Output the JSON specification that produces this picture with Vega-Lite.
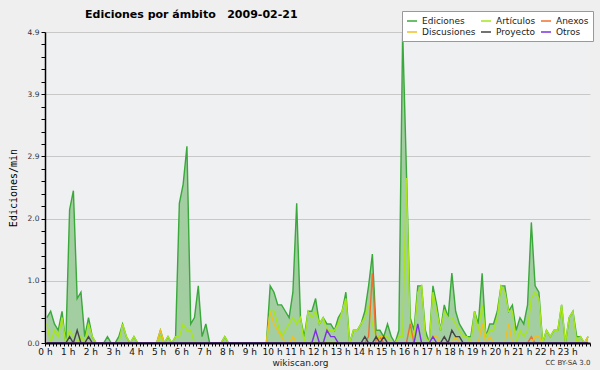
{
  "$schema": "https://vega.github.io/schema/vega-lite/v6.json",
  "width": 545,
  "height": 311,
  "autosize": {"type": "none"},
  "padding": {"left": 45, "top": 32, "right": 10, "bottom": 27},
  "background": "#efefef",
  "config": {"view": {"fill": "#eef0f2", "stroke": null}, "font": "DejaVu Sans"},
  "title": {"text": "Ediciones por ámbito \u00a0 2009-02-21", "anchor": "start", "frame": "group", "dx": 40, "dy": 21, "offset": 12, "fontSize": 11, "fontWeight": "bold", "font": "DejaVu Sans", "color": "#000000"},
  "data": {"values": [
    {"min": 5, "Ediciones": 0.4, "Artículos": 0.3, "Anexos": 0, "Discusiones": 0, "Proyecto": 0, "Otros": 0},
    {"min": 15, "Ediciones": 0.5, "Artículos": 0, "Anexos": 0, "Discusiones": 0, "Proyecto": 0, "Otros": 0},
    {"min": 25, "Ediciones": 0.3, "Artículos": 0.2, "Anexos": 0, "Discusiones": 0, "Proyecto": 0, "Otros": 0},
    {"min": 35, "Ediciones": 0.2, "Artículos": 0.1, "Anexos": 0, "Discusiones": 0, "Proyecto": 0, "Otros": 0},
    {"min": 45, "Ediciones": 0.5, "Artículos": 0.4, "Anexos": 0, "Discusiones": 0, "Proyecto": 0, "Otros": 0},
    {"min": 55, "Ediciones": 0, "Artículos": 0, "Anexos": 0, "Discusiones": 0, "Proyecto": 0, "Otros": 0},
    {"min": 65, "Ediciones": 2.1, "Artículos": 0.2, "Anexos": 0, "Discusiones": 0, "Proyecto": 0.1, "Otros": 0},
    {"min": 75, "Ediciones": 2.4, "Artículos": 0.1, "Anexos": 0, "Discusiones": 0, "Proyecto": 0, "Otros": 0},
    {"min": 85, "Ediciones": 0.7, "Artículos": 0, "Anexos": 0, "Discusiones": 0, "Proyecto": 0.2, "Otros": 0},
    {"min": 95, "Ediciones": 0.8, "Artículos": 0.1, "Anexos": 0, "Discusiones": 0, "Proyecto": 0, "Otros": 0},
    {"min": 105, "Ediciones": 0.1, "Artículos": 0, "Anexos": 0, "Discusiones": 0, "Proyecto": 0, "Otros": 0},
    {"min": 115, "Ediciones": 0.4, "Artículos": 0.3, "Anexos": 0, "Discusiones": 0, "Proyecto": 0.1, "Otros": 0},
    {"min": 125, "Ediciones": 0.1, "Artículos": 0.1, "Anexos": 0, "Discusiones": 0, "Proyecto": 0, "Otros": 0},
    {"min": 135, "Ediciones": 0, "Artículos": 0, "Anexos": 0, "Discusiones": 0, "Proyecto": 0, "Otros": 0},
    {"min": 145, "Ediciones": 0, "Artículos": 0, "Anexos": 0, "Discusiones": 0, "Proyecto": 0, "Otros": 0},
    {"min": 155, "Ediciones": 0, "Artículos": 0, "Anexos": 0, "Discusiones": 0, "Proyecto": 0, "Otros": 0},
    {"min": 165, "Ediciones": 0.1, "Artículos": 0, "Anexos": 0, "Discusiones": 0, "Proyecto": 0, "Otros": 0},
    {"min": 175, "Ediciones": 0, "Artículos": 0, "Anexos": 0, "Discusiones": 0, "Proyecto": 0, "Otros": 0},
    {"min": 185, "Ediciones": 0, "Artículos": 0, "Anexos": 0, "Discusiones": 0, "Proyecto": 0, "Otros": 0},
    {"min": 195, "Ediciones": 0.1, "Artículos": 0, "Anexos": 0, "Discusiones": 0, "Proyecto": 0, "Otros": 0},
    {"min": 205, "Ediciones": 0.3, "Artículos": 0.3, "Anexos": 0, "Discusiones": 0, "Proyecto": 0, "Otros": 0},
    {"min": 215, "Ediciones": 0.1, "Artículos": 0.1, "Anexos": 0, "Discusiones": 0, "Proyecto": 0, "Otros": 0},
    {"min": 225, "Ediciones": 0, "Artículos": 0, "Anexos": 0, "Discusiones": 0, "Proyecto": 0, "Otros": 0},
    {"min": 235, "Ediciones": 0.1, "Artículos": 0.1, "Anexos": 0, "Discusiones": 0, "Proyecto": 0, "Otros": 0},
    {"min": 245, "Ediciones": 0, "Artículos": 0, "Anexos": 0, "Discusiones": 0, "Proyecto": 0, "Otros": 0},
    {"min": 255, "Ediciones": 0, "Artículos": 0, "Anexos": 0, "Discusiones": 0, "Proyecto": 0, "Otros": 0},
    {"min": 265, "Ediciones": 0, "Artículos": 0, "Anexos": 0, "Discusiones": 0, "Proyecto": 0, "Otros": 0},
    {"min": 275, "Ediciones": 0, "Artículos": 0, "Anexos": 0, "Discusiones": 0, "Proyecto": 0, "Otros": 0},
    {"min": 285, "Ediciones": 0, "Artículos": 0, "Anexos": 0, "Discusiones": 0, "Proyecto": 0, "Otros": 0},
    {"min": 295, "Ediciones": 0, "Artículos": 0, "Anexos": 0, "Discusiones": 0, "Proyecto": 0, "Otros": 0},
    {"min": 305, "Ediciones": 0.2, "Artículos": 0.1, "Anexos": 0, "Discusiones": 0.2, "Proyecto": 0, "Otros": 0},
    {"min": 315, "Ediciones": 0, "Artículos": 0, "Anexos": 0, "Discusiones": 0, "Proyecto": 0, "Otros": 0},
    {"min": 325, "Ediciones": 0.1, "Artículos": 0.1, "Anexos": 0, "Discusiones": 0, "Proyecto": 0, "Otros": 0},
    {"min": 335, "Ediciones": 0, "Artículos": 0, "Anexos": 0, "Discusiones": 0, "Proyecto": 0, "Otros": 0},
    {"min": 345, "Ediciones": 0.1, "Artículos": 0.1, "Anexos": 0, "Discusiones": 0, "Proyecto": 0, "Otros": 0},
    {"min": 355, "Ediciones": 2.2, "Artículos": 0.1, "Anexos": 0, "Discusiones": 0, "Proyecto": 0, "Otros": 0},
    {"min": 365, "Ediciones": 2.5, "Artículos": 0.3, "Anexos": 0, "Discusiones": 0, "Proyecto": 0, "Otros": 0},
    {"min": 375, "Ediciones": 3.1, "Artículos": 0.2, "Anexos": 0, "Discusiones": 0, "Proyecto": 0, "Otros": 0},
    {"min": 385, "Ediciones": 0.3, "Artículos": 0.2, "Anexos": 0, "Discusiones": 0, "Proyecto": 0, "Otros": 0},
    {"min": 395, "Ediciones": 0.4, "Artículos": 0, "Anexos": 0, "Discusiones": 0, "Proyecto": 0, "Otros": 0},
    {"min": 405, "Ediciones": 0.9, "Artículos": 0, "Anexos": 0, "Discusiones": 0, "Proyecto": 0, "Otros": 0},
    {"min": 415, "Ediciones": 0.1, "Artículos": 0, "Anexos": 0, "Discusiones": 0, "Proyecto": 0, "Otros": 0},
    {"min": 425, "Ediciones": 0.3, "Artículos": 0, "Anexos": 0, "Discusiones": 0, "Proyecto": 0, "Otros": 0},
    {"min": 435, "Ediciones": 0, "Artículos": 0, "Anexos": 0, "Discusiones": 0, "Proyecto": 0, "Otros": 0},
    {"min": 445, "Ediciones": 0, "Artículos": 0, "Anexos": 0, "Discusiones": 0, "Proyecto": 0, "Otros": 0},
    {"min": 455, "Ediciones": 0, "Artículos": 0, "Anexos": 0, "Discusiones": 0, "Proyecto": 0, "Otros": 0},
    {"min": 465, "Ediciones": 0, "Artículos": 0, "Anexos": 0, "Discusiones": 0, "Proyecto": 0, "Otros": 0},
    {"min": 475, "Ediciones": 0.1, "Artículos": 0.1, "Anexos": 0, "Discusiones": 0, "Proyecto": 0, "Otros": 0},
    {"min": 485, "Ediciones": 0, "Artículos": 0, "Anexos": 0, "Discusiones": 0, "Proyecto": 0, "Otros": 0},
    {"min": 495, "Ediciones": 0, "Artículos": 0, "Anexos": 0, "Discusiones": 0, "Proyecto": 0, "Otros": 0},
    {"min": 505, "Ediciones": 0, "Artículos": 0, "Anexos": 0, "Discusiones": 0, "Proyecto": 0, "Otros": 0},
    {"min": 515, "Ediciones": 0, "Artículos": 0, "Anexos": 0, "Discusiones": 0, "Proyecto": 0, "Otros": 0},
    {"min": 525, "Ediciones": 0, "Artículos": 0, "Anexos": 0, "Discusiones": 0, "Proyecto": 0, "Otros": 0},
    {"min": 535, "Ediciones": 0, "Artículos": 0, "Anexos": 0, "Discusiones": 0, "Proyecto": 0, "Otros": 0},
    {"min": 545, "Ediciones": 0, "Artículos": 0, "Anexos": 0, "Discusiones": 0, "Proyecto": 0, "Otros": 0},
    {"min": 555, "Ediciones": 0, "Artículos": 0, "Anexos": 0, "Discusiones": 0, "Proyecto": 0, "Otros": 0},
    {"min": 565, "Ediciones": 0, "Artículos": 0, "Anexos": 0, "Discusiones": 0, "Proyecto": 0, "Otros": 0},
    {"min": 575, "Ediciones": 0, "Artículos": 0, "Anexos": 0, "Discusiones": 0, "Proyecto": 0, "Otros": 0},
    {"min": 585, "Ediciones": 0, "Artículos": 0, "Anexos": 0, "Discusiones": 0, "Proyecto": 0, "Otros": 0},
    {"min": 595, "Ediciones": 0.9, "Artículos": 0.5, "Anexos": 0, "Discusiones": 0.5, "Proyecto": 0, "Otros": 0},
    {"min": 605, "Ediciones": 0.8, "Artículos": 0.5, "Anexos": 0, "Discusiones": 0.3, "Proyecto": 0, "Otros": 0},
    {"min": 615, "Ediciones": 0.6, "Artículos": 0.3, "Anexos": 0, "Discusiones": 0.2, "Proyecto": 0, "Otros": 0},
    {"min": 625, "Ediciones": 0.6, "Artículos": 0.1, "Anexos": 0, "Discusiones": 0.1, "Proyecto": 0, "Otros": 0},
    {"min": 635, "Ediciones": 0.5, "Artículos": 0.2, "Anexos": 0, "Discusiones": 0, "Proyecto": 0, "Otros": 0},
    {"min": 645, "Ediciones": 0.4, "Artículos": 0.3, "Anexos": 0, "Discusiones": 0, "Proyecto": 0, "Otros": 0},
    {"min": 655, "Ediciones": 0.8, "Artículos": 0.4, "Anexos": 0, "Discusiones": 0.1, "Proyecto": 0, "Otros": 0},
    {"min": 665, "Ediciones": 2.2, "Artículos": 0.3, "Anexos": 0, "Discusiones": 0, "Proyecto": 0, "Otros": 0},
    {"min": 675, "Ediciones": 0.4, "Artículos": 0.4, "Anexos": 0, "Discusiones": 0, "Proyecto": 0, "Otros": 0},
    {"min": 685, "Ediciones": 0.1, "Artículos": 0, "Anexos": 0, "Discusiones": 0, "Proyecto": 0, "Otros": 0},
    {"min": 695, "Ediciones": 0.5, "Artículos": 0.5, "Anexos": 0, "Discusiones": 0, "Proyecto": 0, "Otros": 0},
    {"min": 705, "Ediciones": 0.5, "Artículos": 0.4, "Anexos": 0, "Discusiones": 0, "Proyecto": 0, "Otros": 0},
    {"min": 715, "Ediciones": 0.7, "Artículos": 0.5, "Anexos": 0, "Discusiones": 0, "Proyecto": 0, "Otros": 0.2},
    {"min": 725, "Ediciones": 0.3, "Artículos": 0.3, "Anexos": 0, "Discusiones": 0, "Proyecto": 0, "Otros": 0},
    {"min": 735, "Ediciones": 0.4, "Artículos": 0.4, "Anexos": 0, "Discusiones": 0, "Proyecto": 0, "Otros": 0},
    {"min": 745, "Ediciones": 0.3, "Artículos": 0.2, "Anexos": 0, "Discusiones": 0, "Proyecto": 0, "Otros": 0.2},
    {"min": 755, "Ediciones": 0.3, "Artículos": 0.2, "Anexos": 0, "Discusiones": 0, "Proyecto": 0, "Otros": 0.1},
    {"min": 765, "Ediciones": 0.2, "Artículos": 0.2, "Anexos": 0, "Discusiones": 0, "Proyecto": 0, "Otros": 0.1},
    {"min": 775, "Ediciones": 0.4, "Artículos": 0.3, "Anexos": 0, "Discusiones": 0, "Proyecto": 0, "Otros": 0},
    {"min": 785, "Ediciones": 0.5, "Artículos": 0.5, "Anexos": 0, "Discusiones": 0, "Proyecto": 0, "Otros": 0},
    {"min": 795, "Ediciones": 0.8, "Artículos": 0.7, "Anexos": 0, "Discusiones": 0, "Proyecto": 0, "Otros": 0},
    {"min": 805, "Ediciones": 0, "Artículos": 0, "Anexos": 0, "Discusiones": 0, "Proyecto": 0, "Otros": 0},
    {"min": 815, "Ediciones": 0.2, "Artículos": 0.2, "Anexos": 0, "Discusiones": 0, "Proyecto": 0, "Otros": 0},
    {"min": 825, "Ediciones": 0.2, "Artículos": 0.2, "Anexos": 0, "Discusiones": 0, "Proyecto": 0, "Otros": 0},
    {"min": 835, "Ediciones": 0.3, "Artículos": 0.3, "Anexos": 0, "Discusiones": 0, "Proyecto": 0, "Otros": 0},
    {"min": 845, "Ediciones": 0.5, "Artículos": 0.4, "Anexos": 0, "Discusiones": 0, "Proyecto": 0.1, "Otros": 0},
    {"min": 855, "Ediciones": 0.9, "Artículos": 0.6, "Anexos": 0.1, "Discusiones": 0, "Proyecto": 0, "Otros": 0},
    {"min": 865, "Ediciones": 1.4, "Artículos": 0.3, "Anexos": 1.1, "Discusiones": 0, "Proyecto": 0, "Otros": 0},
    {"min": 875, "Ediciones": 0.2, "Artículos": 0.1, "Anexos": 0, "Discusiones": 0, "Proyecto": 0.1, "Otros": 0},
    {"min": 885, "Ediciones": 0.2, "Artículos": 0.1, "Anexos": 0.1, "Discusiones": 0.1, "Proyecto": 0, "Otros": 0},
    {"min": 895, "Ediciones": 0.1, "Artículos": 0.1, "Anexos": 0, "Discusiones": 0.1, "Proyecto": 0.1, "Otros": 0},
    {"min": 905, "Ediciones": 0.3, "Artículos": 0.1, "Anexos": 0, "Discusiones": 0, "Proyecto": 0, "Otros": 0},
    {"min": 915, "Ediciones": 0.1, "Artículos": 0, "Anexos": 0, "Discusiones": 0, "Proyecto": 0, "Otros": 0},
    {"min": 925, "Ediciones": 0, "Artículos": 0, "Anexos": 0, "Discusiones": 0, "Proyecto": 0, "Otros": 0},
    {"min": 935, "Ediciones": 0.2, "Artículos": 0.1, "Anexos": 0, "Discusiones": 0, "Proyecto": 0, "Otros": 0},
    {"min": 945, "Ediciones": 4.9, "Artículos": 0.1, "Anexos": 0, "Discusiones": 0, "Proyecto": 0, "Otros": 0},
    {"min": 955, "Ediciones": 2.7, "Artículos": 2.6, "Anexos": 0, "Discusiones": 0, "Proyecto": 0, "Otros": 0},
    {"min": 965, "Ediciones": 0.4, "Artículos": 0.1, "Anexos": 0.3, "Discusiones": 0, "Proyecto": 0, "Otros": 0},
    {"min": 975, "Ediciones": 0.2, "Artículos": 0.1, "Anexos": 0, "Discusiones": 0, "Proyecto": 0, "Otros": 0},
    {"min": 985, "Ediciones": 0.9, "Artículos": 0.8, "Anexos": 0, "Discusiones": 0, "Proyecto": 0, "Otros": 0.3},
    {"min": 995, "Ediciones": 0.9, "Artículos": 0.9, "Anexos": 0, "Discusiones": 0, "Proyecto": 0, "Otros": 0},
    {"min": 1005, "Ediciones": 0.2, "Artículos": 0.1, "Anexos": 0, "Discusiones": 0, "Proyecto": 0, "Otros": 0},
    {"min": 1015, "Ediciones": 0, "Artículos": 0, "Anexos": 0, "Discusiones": 0, "Proyecto": 0, "Otros": 0},
    {"min": 1025, "Ediciones": 0.9, "Artículos": 0.8, "Anexos": 0, "Discusiones": 0.1, "Proyecto": 0, "Otros": 0.1},
    {"min": 1035, "Ediciones": 0.6, "Artículos": 0.5, "Anexos": 0, "Discusiones": 0.1, "Proyecto": 0, "Otros": 0},
    {"min": 1045, "Ediciones": 0.2, "Artículos": 0.2, "Anexos": 0, "Discusiones": 0, "Proyecto": 0, "Otros": 0},
    {"min": 1055, "Ediciones": 0.6, "Artículos": 0.5, "Anexos": 0, "Discusiones": 0, "Proyecto": 0.1, "Otros": 0},
    {"min": 1065, "Ediciones": 0.4, "Artículos": 0.4, "Anexos": 0, "Discusiones": 0, "Proyecto": 0, "Otros": 0},
    {"min": 1075, "Ediciones": 1.1, "Artículos": 0.4, "Anexos": 0, "Discusiones": 0, "Proyecto": 0.2, "Otros": 0},
    {"min": 1085, "Ediciones": 0.5, "Artículos": 0.3, "Anexos": 0, "Discusiones": 0.1, "Proyecto": 0.1, "Otros": 0},
    {"min": 1095, "Ediciones": 0.3, "Artículos": 0.2, "Anexos": 0, "Discusiones": 0, "Proyecto": 0.1, "Otros": 0},
    {"min": 1105, "Ediciones": 0.2, "Artículos": 0.1, "Anexos": 0, "Discusiones": 0, "Proyecto": 0, "Otros": 0},
    {"min": 1115, "Ediciones": 0.1, "Artículos": 0.1, "Anexos": 0, "Discusiones": 0, "Proyecto": 0, "Otros": 0},
    {"min": 1125, "Ediciones": 0.1, "Artículos": 0, "Anexos": 0, "Discusiones": 0, "Proyecto": 0, "Otros": 0},
    {"min": 1135, "Ediciones": 0.5, "Artículos": 0.5, "Anexos": 0, "Discusiones": 0, "Proyecto": 0, "Otros": 0},
    {"min": 1145, "Ediciones": 0.3, "Artículos": 0.2, "Anexos": 0, "Discusiones": 0, "Proyecto": 0, "Otros": 0},
    {"min": 1155, "Ediciones": 1.1, "Artículos": 0.6, "Anexos": 0, "Discusiones": 0.3, "Proyecto": 0, "Otros": 0},
    {"min": 1165, "Ediciones": 0.1, "Artículos": 0.1, "Anexos": 0, "Discusiones": 0, "Proyecto": 0, "Otros": 0},
    {"min": 1175, "Ediciones": 0.3, "Artículos": 0.2, "Anexos": 0, "Discusiones": 0.1, "Proyecto": 0, "Otros": 0},
    {"min": 1185, "Ediciones": 0.3, "Artículos": 0.2, "Anexos": 0, "Discusiones": 0, "Proyecto": 0, "Otros": 0},
    {"min": 1195, "Ediciones": 0.5, "Artículos": 0.4, "Anexos": 0, "Discusiones": 0, "Proyecto": 0, "Otros": 0},
    {"min": 1205, "Ediciones": 0.9, "Artículos": 0.9, "Anexos": 0, "Discusiones": 0, "Proyecto": 0, "Otros": 0},
    {"min": 1215, "Ediciones": 0.9, "Artículos": 0.8, "Anexos": 0, "Discusiones": 0, "Proyecto": 0, "Otros": 0},
    {"min": 1225, "Ediciones": 0.5, "Artículos": 0.5, "Anexos": 0, "Discusiones": 0.3, "Proyecto": 0, "Otros": 0},
    {"min": 1235, "Ediciones": 0.6, "Artículos": 0.5, "Anexos": 0, "Discusiones": 0, "Proyecto": 0, "Otros": 0},
    {"min": 1245, "Ediciones": 0.2, "Artículos": 0, "Anexos": 0, "Discusiones": 0, "Proyecto": 0, "Otros": 0},
    {"min": 1255, "Ediciones": 0.4, "Artículos": 0.2, "Anexos": 0, "Discusiones": 0, "Proyecto": 0, "Otros": 0},
    {"min": 1265, "Ediciones": 0.3, "Artículos": 0.1, "Anexos": 0, "Discusiones": 0, "Proyecto": 0, "Otros": 0},
    {"min": 1275, "Ediciones": 0.6, "Artículos": 0.2, "Anexos": 0, "Discusiones": 0, "Proyecto": 0, "Otros": 0},
    {"min": 1285, "Ediciones": 1.9, "Artículos": 0.7, "Anexos": 0.1, "Discusiones": 0, "Proyecto": 0, "Otros": 0},
    {"min": 1295, "Ediciones": 0.9, "Artículos": 0.8, "Anexos": 0, "Discusiones": 0.1, "Proyecto": 0, "Otros": 0},
    {"min": 1305, "Ediciones": 0.8, "Artículos": 0.7, "Anexos": 0, "Discusiones": 0.1, "Proyecto": 0, "Otros": 0},
    {"min": 1315, "Ediciones": 0, "Artículos": 0, "Anexos": 0, "Discusiones": 0, "Proyecto": 0, "Otros": 0},
    {"min": 1325, "Ediciones": 0.2, "Artículos": 0.2, "Anexos": 0, "Discusiones": 0, "Proyecto": 0, "Otros": 0},
    {"min": 1335, "Ediciones": 0.1, "Artículos": 0.1, "Anexos": 0, "Discusiones": 0, "Proyecto": 0, "Otros": 0},
    {"min": 1345, "Ediciones": 0.2, "Artículos": 0.2, "Anexos": 0, "Discusiones": 0, "Proyecto": 0, "Otros": 0},
    {"min": 1355, "Ediciones": 0.2, "Artículos": 0.2, "Anexos": 0, "Discusiones": 0, "Proyecto": 0, "Otros": 0},
    {"min": 1365, "Ediciones": 0.6, "Artículos": 0.6, "Anexos": 0, "Discusiones": 0, "Proyecto": 0, "Otros": 0},
    {"min": 1375, "Ediciones": 0, "Artículos": 0, "Anexos": 0, "Discusiones": 0, "Proyecto": 0, "Otros": 0},
    {"min": 1385, "Ediciones": 0.4, "Artículos": 0.4, "Anexos": 0, "Discusiones": 0, "Proyecto": 0, "Otros": 0},
    {"min": 1395, "Ediciones": 0.5, "Artículos": 0.5, "Anexos": 0, "Discusiones": 0, "Proyecto": 0, "Otros": 0},
    {"min": 1405, "Ediciones": 0.1, "Artículos": 0, "Anexos": 0, "Discusiones": 0, "Proyecto": 0, "Otros": 0},
    {"min": 1415, "Ediciones": 0.1, "Artículos": 0.1, "Anexos": 0, "Discusiones": 0, "Proyecto": 0, "Otros": 0},
    {"min": 1425, "Ediciones": 0, "Artículos": 0, "Anexos": 0, "Discusiones": 0, "Proyecto": 0, "Otros": 0},
    {"min": 1435, "Ediciones": 0.1, "Artículos": 0.1, "Anexos": 0, "Discusiones": 0.1, "Proyecto": 0, "Otros": 0}
  ]},
  "layer": [
    {
      "mark": {"type": "area", "color": "#a2cea2", "opacity": 1},
      "encoding": {
        "x": {"field": "min", "type": "quantitative", "scale": {"domain": [0, 1440], "nice": false},
          "axis": {"title": "wikiscan.org", "titleFontSize": 9, "titleFontWeight": "normal", "titleColor": "#222222", "titlePadding": 2, "titleX": 255, "zindex": 1,
            "tickCount": 144, "labelExpr": "datum.value % 60 == 0 && datum.value < 1440 ? (datum.value / 60) + ' h' : ''",
            "labelFontSize": 9, "labelColor": "#111111", "labelPadding": 1, "labelOverlap": false, "labelFlush": false,
            "tickSize": 3, "tickColor": "#000000", "tickWidth": 1, "domainColor": "#000000", "domainWidth": 2, "grid": false}},
        "y": {"field": "Ediciones", "type": "quantitative", "scale": {"domain": [0, 4.9], "nice": false},
          "axis": {"title": "Ediciones/min", "titleFont": "DejaVu Sans Mono", "titleFontSize": 10, "titleFontWeight": "normal", "titleColor": "#000000", "titlePadding": 9,
            "tickCount": 40,
            "values": [0, 0.196, 0.392, 0.588, 0.784, 0.98, 1.176, 1.372, 1.568, 1.764, 1.96, 2.156, 2.352, 2.548, 2.744, 2.94, 3.136, 3.332, 3.528, 3.724, 3.92, 4.116, 4.312, 4.508, 4.704, 4.9],
            "labelExpr": "indexof([0, 0.98, 1.96, 2.94, 3.92, 4.9], datum.value) >= 0 ? format(datum.value, '.1f') : ''",
            "labelFontSize": 7.5, "labelColor": "#333333", "labelPadding": 2, "labelOverlap": false,
            "grid": true, "gridColor": "#c8c8c8",
            "gridOpacity": {"condition": {"test": "indexof([0.98, 1.96, 2.94, 3.92, 4.9], datum.value) >= 0", "value": 1}, "value": 0},
            "tickSize": 4, "tickColor": "#000000", "domainColor": "#000000", "domainWidth": 1.5}}
      }
    },
    {
      "transform": [{"fold": ["Ediciones", "Artículos", "Anexos", "Discusiones", "Proyecto", "Otros"], "as": ["serie", "valor"]}],
      "mark": {"type": "line", "strokeWidth": 1.4},
      "encoding": {
        "x": {"field": "min", "type": "quantitative",
          "axis": {"orient": "bottom", "title": "CC BY-SA 3.0", "titleAnchor": "end", "titleFontSize": 7, "titleFontWeight": "normal", "titleColor": "#333333", "titlePadding": 15, "labels": false, "ticks": false, "domain": false, "grid": false}},
        "y": {"field": "valor", "type": "quantitative"},
        "color": {"field": "serie", "type": "nominal",
          "scale": {"domain": ["Ediciones", "Artículos", "Anexos", "Discusiones", "Proyecto", "Otros"], "range": ["#3aa83a", "#a6e61a", "#f07030", "#f0c020", "#444444", "#8030e0"]},
          "legend": {"title": null, "orient": "none", "legendX": 357, "legendY": -21, "columns": 3, "direction": "horizontal",
            "symbolType": "stroke", "symbolSize": 100, "symbolStrokeWidth": 1.5, "labelFontSize": 9, "labelColor": "#222222", "labelOffset": 4,
            "columnPadding": 2, "rowPadding": 0, "padding": 4, "fillColor": "#ffffff", "strokeColor": "#999999"}}
      }
    }
  ],
  "resolve": {"axis": {"x": "independent"}}
}
